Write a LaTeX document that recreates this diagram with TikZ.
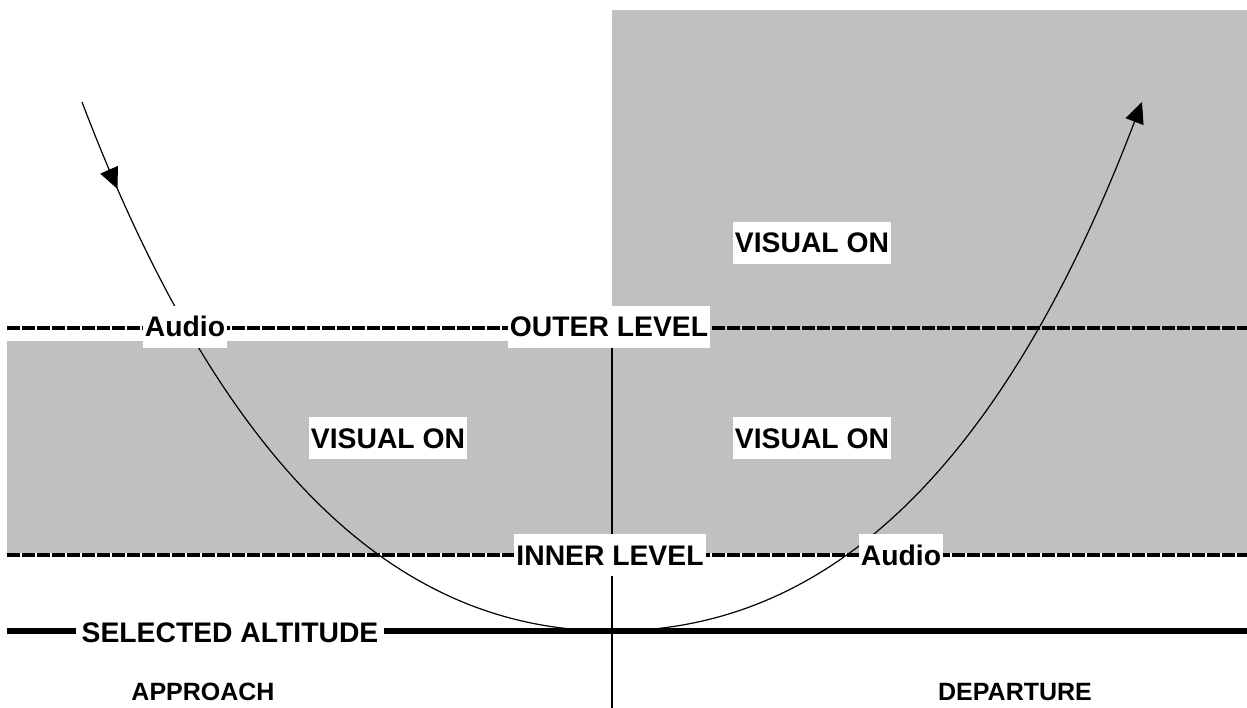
\documentclass[tikz,border=0pt]{standalone}
\usepackage{fontspec}
\setmainfont{Liberation Sans}
\usetikzlibrary{arrows.meta,decorations.markings}
\definecolor{zonegrey}{RGB}{192,192,192}
\tikzset{
  lbl/.style={fill=white, inner xsep=2pt, inner ysep=0pt, text height=31pt, text depth=11pt,
    font=\bfseries\fontsize{28.3}{34}\selectfont},
  plain/.style={inner sep=0pt, font=\bfseries\fontsize{25}{30}\selectfont},
  level/.style={line width=3.5pt, dash pattern=on 13pt off 2pt},
  altitude/.style={line width=6pt},
  divider/.style={line width=1.2pt},
  flight/.style={line width=1.2pt}
}
\begin{document}
\begin{tikzpicture}[x=1pt,y=-1pt]
\useasboundingbox (0,0) rectangle (1247,708);

% shaded zones
\fill[zonegrey] (612,10) rectangle (1247,553);
\fill[zonegrey] (7,341) rectangle (612,553);

% level lines
\draw[level] (7,328) -- (1247,328);
\draw[level] (7,555) -- (1247,555);
\draw[altitude] (7,631) -- (1247,631);

% approach / departure divider
\coordinate (divtop) at (612,328);
\coordinate (divbot) at (612,708);
\draw[divider] (divtop) -- (divbot);

% flight path
\coordinate (start) at (82,102);
\coordinate (low) at (612,631);
\coordinate (finish) at (1142,102);
\draw[flight, -{Triangle[length=21pt,width=19pt]},
  postaction={decorate, decoration={markings, mark=at position 94pt with {\arrow{Triangle[length=21pt,width=19pt]}}}}]
  (start) .. controls (245,530) and (440,631) .. (low)
          .. controls (784,631) and (979,530) .. (finish);

% labels
\node[lbl] (audioL) at (185,327) {Audio};
\node[lbl] (outer) at (609,327) {OUTER LEVEL};
\node[lbl] (visTop) at (812,243) {VISUAL ON};
\node[lbl] (visL) at (388,438) {VISUAL ON};
\node[lbl] (visR) at (812,438) {VISUAL ON};
\node[lbl] (inner) at (610,555) {INNER LEVEL};
\node[lbl] (audioR) at (901,555) {Audio};
\node[lbl, inner xsep=6pt] (sel) at (230,632) {SELECTED ALTITUDE};
\node[plain] (approach) at (203,692) {APPROACH};
\node[plain] (departure) at (1015,692) {DEPARTURE};
\end{tikzpicture}
\end{document}
